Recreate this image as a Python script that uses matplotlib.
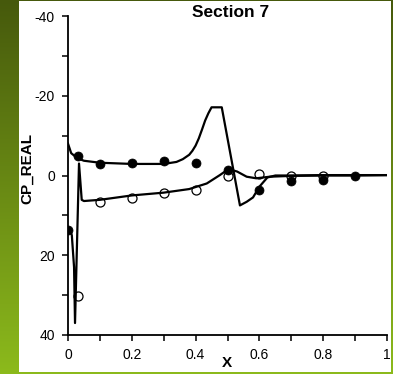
import numpy as np
import matplotlib
matplotlib.use("Agg")
import matplotlib.pyplot as plt
from matplotlib.colors import LinearSegmentedColormap
from matplotlib.patches import Rectangle

# Computed pressure coefficient, suction side
upper_x = [0.0, 0.01, 0.03, 0.05, 0.1, 0.2, 0.3, 0.34, 0.36, 0.38, 0.39, 0.40, 0.41,
           0.42, 0.43, 0.44, 0.45, 0.482, 0.539, 0.56, 0.58, 0.60, 0.625, 0.65,
           0.7, 0.8, 0.9, 1.0]
upper_cp = [-8.0, -5.6, -4.3, -3.7, -3.2, -2.9, -2.9, -3.4, -4.1, -5.2, -6.2, -7.5, -9.3,
            -11.5, -13.8, -15.6, -17.1, -17.1, 7.5, 6.6, 5.5, 2.8, 0.5, 0.0,
            0.0, -0.1, -0.1, -0.1]

# Computed pressure coefficient, pressure side
lower_x = [0.0, 0.006, 0.012, 0.019, 0.022, 0.0345, 0.043, 0.05, 0.1, 0.2, 0.3, 0.38,
           0.435, 0.476, 0.503, 0.53, 0.56, 0.59, 0.633, 0.7, 0.8, 0.9, 1.0]
lower_cp = [13.0, 13.5, 15.0, 23.0, 37.0, -3.0, 6.1, 6.4, 6.1, 5.0, 4.3, 3.4,
            2.0, -0.1, -1.6, -1.0, 0.3, 0.7, 0.3, 0.1, 0.0, 0.0, -0.1]

# Measured values (filled symbols)
meas_a_x = [0.0, 0.03, 0.1, 0.2, 0.3, 0.4, 0.5, 0.6, 0.7, 0.8, 0.9]
meas_a_cp = [13.7, -5.0, -2.9, -3.1, -3.7, -3.2, -1.4, 3.7, 1.5, 1.1, 0.0]

# Measured values (open symbols)
meas_b_x = [0.03, 0.1, 0.2, 0.3, 0.4, 0.5, 0.6, 0.7, 0.8]
meas_b_cp = [30.2, 6.6, 5.7, 4.5, 3.6, 0.0, -0.4, 0.1, 0.1]

x_ticks = [0, 0.1, 0.2, 0.3, 0.4, 0.5, 0.6, 0.7, 0.8, 0.9, 1.0]
x_tick_labels = ["0", "", "0.2", "", "0.4", "", "0.6", "", "0.8", "", "1"]
y_ticks = [-40, -30, -20, -10, 0, 10, 20, 30, 40]
y_tick_labels = ["-40", "", "-20", "", "0", "", "20", "", "40"]

W, H, DPI = 393, 374, 100
fig = plt.figure(figsize=(W / DPI, H / DPI), dpi=DPI)

# green gradient frame behind the white panel
bg = fig.add_axes([0, 0, 1, 1], zorder=-10)
bg.set_axis_off()
cmap = LinearSegmentedColormap.from_list("frame", ["#46590c", "#8cba1c"])
grad = np.linspace(0, 1, 256).reshape(-1, 1)
bg.imshow(grad, aspect="auto", cmap=cmap, extent=[0, 1, 0, 1], origin="upper")
bg.set_xlim(0, 1)
bg.set_ylim(0, 1)
bg.add_patch(Rectangle((19 / W, 2 / H), (391 - 19) / W, (373 - 2) / H,
                       facecolor="white", edgecolor="none"))

ax = fig.add_axes([68 / W, 1 - 335 / H, (387 - 68) / W, (335 - 16) / H])
ax.set_facecolor("none")

font = "Liberation Sans"
lw = 1.6
msize = 6.5 ** 2
ax.scatter(meas_b_x, meas_b_cp, s=msize, marker="o", facecolor="white",
           edgecolor="black", linewidth=0.9, zorder=2)
ax.plot(upper_x, upper_cp, color="black", linewidth=lw, zorder=3)
ax.plot(lower_x, lower_cp, color="black", linewidth=lw, zorder=3)
ax.scatter(meas_a_x, meas_a_cp, s=msize, marker="o", facecolor="black",
           edgecolor="black", linewidth=0.5, zorder=4)

ax.set_xlim(0, 1)
ax.set_ylim(40, -40)
ax.set_xticks(x_ticks)
ax.set_xticklabels(x_tick_labels, fontfamily=font, fontsize=10)
ax.set_yticks(y_ticks)
ax.set_yticklabels(y_tick_labels, fontfamily=font, fontsize=10)
ax.tick_params(direction="out", length=4.5, width=1.1, pad=5, colors="black")
for side in ("top", "right"):
    ax.spines[side].set_visible(False)
for side in ("left", "bottom"):
    ax.spines[side].set_linewidth(1.3)

ax.set_title("Section 7", fontfamily=font, fontweight="bold", fontsize=12.5,
             x=0.51, y=1.0, pad=-1)
ax.set_xlabel("X", fontfamily=font, fontweight="bold", fontsize=11)
ax.xaxis.set_label_coords((227 - 68) / (387 - 68), -(356 - 335) / (335 - 16))
ax.set_ylabel("CP_REAL", fontfamily=font, fontweight="bold", fontsize=11)
ax.yaxis.set_label_coords(-(68 - 34) / (387 - 68), (335 - 169) / (335 - 16))

fig.savefig("out.png", dpi=DPI)
